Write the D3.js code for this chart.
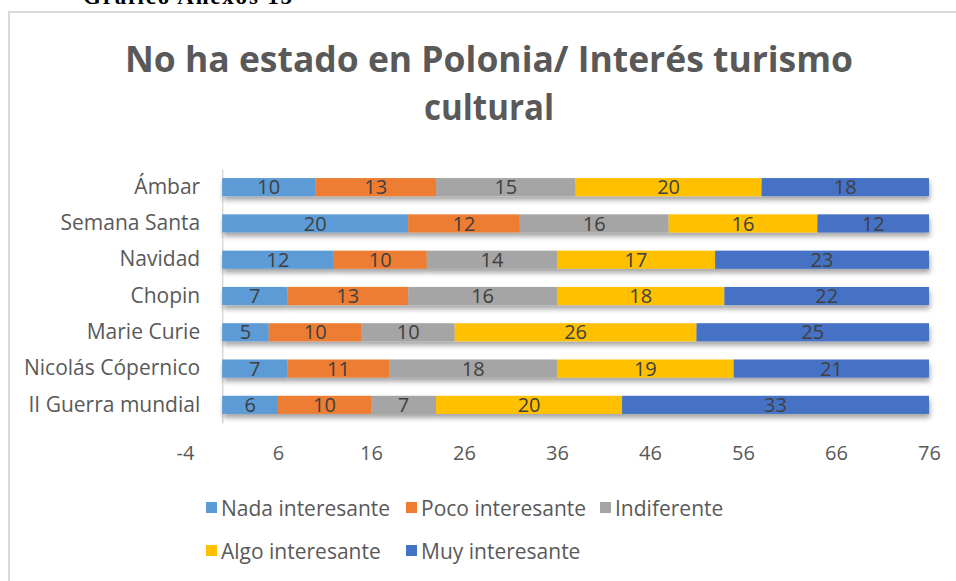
<!DOCTYPE html>
<html>
<head>
<meta charset="utf-8">
<script src="https://cdn.jsdelivr.net/npm/d3@7"></script>
<style>
  html, body { margin: 0; padding: 0; background: #fff; }
  svg { display: block; }
</style>
</head>
<body>
<div id="chart"></div>
<script>
// ----------------------------------
// DATA
// ----------------------------------
const categories = ['Ámbar', 'Semana Santa', 'Navidad ', 'Chopin ', 'Marie Curie', 'Nicolás Cópernico', 'II Guerra mundial'];
const seriesNames = ['Nada interesante', 'Poco interesante', 'Indiferente', 'Algo interesante', 'Muy interesante'];
const nadaValues = [10, 20, 12, 7, 5, 7, 6];
const pocoValues = [13, 12, 10, 13, 10, 11, 10];
const indiferenteValues = [15, 16, 14, 16, 10, 18, 7];
const algoValues = [20, 16, 17, 18, 26, 19, 20];
const muyValues = [18, 12, 23, 22, 25, 21, 33];
const xTicks = [-4, 6, 16, 26, 36, 46, 56, 66, 76];
const seriesColors = ['#5B9BD5', '#ED7D31', '#A5A5A5', '#FFC000', '#4472C4'];

const table = categories.map((c, i) => ({
	cat: c,
	'Nada interesante': nadaValues[i],
	'Poco interesante': pocoValues[i],
	'Indiferente': indiferenteValues[i],
	'Algo interesante': algoValues[i],
	'Muy interesante': muyValues[i]
}));

// ----------------------------------
// SETUP
// ----------------------------------
const width = 956, height = 581;
const font = '"Open Sans", Lato, sans-serif';
const textColor = '#595959';

const svg = d3.select('#chart')
	.append('svg')
	.attr('width', width)
	.attr('height', height);

const defs = svg.append('defs');
const shadow = defs.append('filter')
	.attr('id', 'shadow')
	.attr('x', '-5%').attr('y', '-30%')
	.attr('width', '110%').attr('height', '190%');
shadow.append('feDropShadow')
	.attr('dx', 1).attr('dy', 4)
	.attr('stdDeviation', 2.5)
	.attr('flood-color', '#000')
	.attr('flood-opacity', 0.35);

// heading above the chart box (clipped at the page top)
svg.append('text')
	.text('Gráfico Anexos 15')
	.attr('x', 83)
	.attr('y', 4)
	.attr('textLength', 209)
	.style('font-family', '"Liberation Serif", "Times New Roman", serif')
	.style('font-weight', 'bold')
	.style('font-size', '23px')
	.attr('fill', '#000');

// chart area border
svg.append('rect')
	.attr('x', 9)
	.attr('y', 12)
	.attr('width', 960)
	.attr('height', 600)
	.attr('fill', 'none')
	.attr('stroke', '#d9d9d9')
	.attr('stroke-width', 2);

// title
const title = svg.append('text')
	.attr('text-anchor', 'middle')
	.style('font-family', font)
	.style('font-weight', 'bold')
	.style('font-size', '36px')
	.attr('fill', textColor);
title.append('tspan')
	.attr('x', 489).attr('y', 72)
	.attr('textLength', 728)
	.attr('lengthAdjust', 'spacingAndGlyphs')
	.text('No ha estado en Polonia/ Interés turismo');
title.append('tspan')
	.attr('x', 489).attr('y', 120)
	.attr('textLength', 130)
	.attr('lengthAdjust', 'spacingAndGlyphs')
	.text('cultural');

// ----------------------------------
// SCALES
// ----------------------------------
const xScale = d3.scaleLinear()
	.domain([-4, 76])
	.range([185, 929]);

const yScale = d3.scaleBand()
	.domain(categories)
	.range([169, 423])
	.paddingInner(0.5)
	.paddingOuter(0.25);

// ----------------------------------
// AXES
// ----------------------------------
const xAxis = svg.append('g')
	.attr('transform', 'translate(0, 423)')
	.call(d3.axisBottom(xScale).tickValues(xTicks).tickFormat(d => String(d)).tickSize(0).tickPadding(23));
xAxis.select('.domain').remove();
xAxis.selectAll('text')
	.style('font-family', font)
	.style('font-size', '20px')
	.attr('fill', textColor);

const yAxis = svg.append('g')
	.attr('transform', `translate(${xScale(0)}, 0)`)
	.call(d3.axisLeft(yScale).tickSize(0).tickPadding(22));
yAxis.select('.domain')
	.attr('stroke', '#d9d9d9')
	.attr('stroke-width', 1.5);
yAxis.selectAll('text')
	.style('font-family', font)
	.style('font-size', '21px')
	.attr('fill', textColor);

// ----------------------------------
// BARS
// ----------------------------------
const stacked = d3.stack().keys(seriesNames)(table);

const layers = svg.append('g')
	.attr('filter', 'url(#shadow)');

stacked.forEach((layer, si) => {
	layers.append('g')
		.selectAll('rect')
		.data(layer)
		.join('rect')
		.attr('x', d => xScale(d[0]))
		.attr('y', d => yScale(d.data.cat))
		.attr('width', d => xScale(d[1]) - xScale(d[0]))
		.attr('height', yScale.bandwidth())
		.attr('fill', seriesColors[si]);
});

const labels = svg.append('g');
stacked.forEach(layer => {
	labels.append('g')
		.selectAll('text')
		.data(layer)
		.join('text')
		.attr('x', d => (xScale(d[0]) + xScale(d[1])) / 2)
		.attr('y', d => yScale(d.data.cat) + yScale.bandwidth() / 2)
		.attr('dy', '0.36em')
		.attr('text-anchor', 'middle')
		.style('font-family', font)
		.style('font-size', '20px')
		.attr('fill', '#404040')
		.text(d => d[1] - d[0]);
});

// ----------------------------------
// LEGEND
// ----------------------------------
const legendPos = [
	{x: 206, y: 508}, {x: 406, y: 508}, {x: 600, y: 508},
	{x: 206, y: 551}, {x: 406, y: 551}
];
const legend = svg.append('g');
seriesNames.forEach((name, i) => {
	const item = legend.append('g')
		.attr('transform', `translate(${legendPos[i].x}, ${legendPos[i].y})`);
	item.append('rect')
		.attr('x', 0).attr('y', -6)
		.attr('width', 11).attr('height', 11)
		.attr('fill', seriesColors[i]);
	item.append('text')
		.attr('x', 15)
		.attr('dy', '0.36em')
		.style('font-family', font)
		.style('font-size', '21px')
		.attr('fill', textColor)
		.text(name);
});
</script>
</body>
</html>
